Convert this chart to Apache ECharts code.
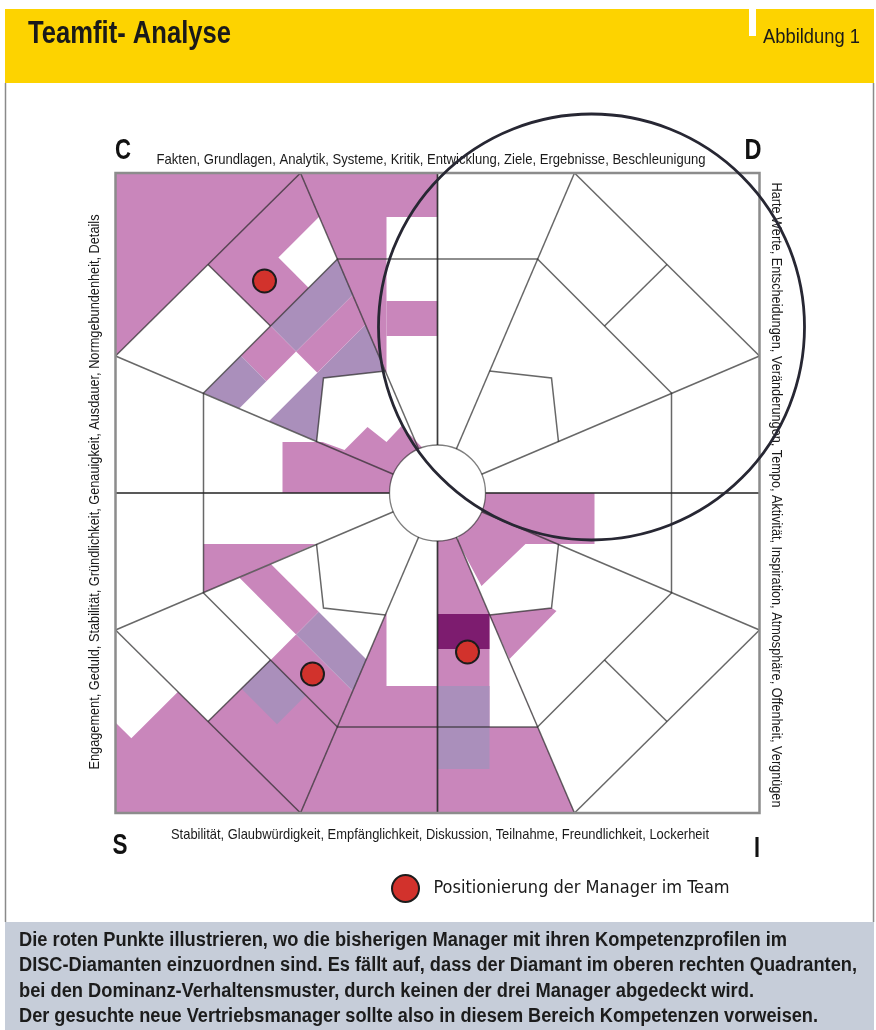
<!DOCTYPE html>
<html>
<head>
<meta charset="utf-8">
<script src="https://cdn.jsdelivr.net/npm/echarts@6/dist/echarts.min.js"></script>
<style>
html, body { margin: 0; padding: 0; background: #fff; }
#chart { width: 876px; height: 1030px; }
</style>
</head>
<body>
<div id="chart"></div>
<script>
const FONT = '"Liberation Sans", Arial, sans-serif';
const LEGEND_FONT = '"DejaVu Sans Condensed", sans-serif';

// diamond geometry, one quadrant (top right), mirrored into the others
const half = [322, 320];
const vertexT = [137, 320];
const vertexR = [322, 137];
const octagon = [[0, 234], [100, 234], [234, 100], [234, 0]];
const crossLine = [[167, 167], [229.5, 228.5]];
const innerQuad = [[52, 122], [114, 115], [121, 51]];
const hubRadius = 48;
const quadrants = [[1, 1], [-1, 1], [-1, -1], [1, -1]]; // TR, TL, BL, BR

// marked circle (top right)
const focusCenter = [154, 166];
const focusRadius = 213;

// managers
const managerName = 'Positionierung der Manager im Team';
const managers = [[-173, 212], [-125, -181], [30, -159]];

// shaded areas of the profile (x, y in diagram units)
const pinkAreas = [
  [[-322, 320], [-322, 137], [-229.5, 228.5], [-167, 167], [-100, 234], [-137, 320]],
  [[-137, 320], [0, 320], [0, 276], [-51, 276], [-51, 119.5]],
  [[-51, 157], [0, 157], [0, 192], [-51, 192]],
  [[-322, -320], [-137, -320], [-100, -234], [-167, -167], [-229.5, -228.5], [-322, -137]],
  [[-234, -51], [-122, -51], [-234, -99.5]],
  [[-137, -320], [0, -320], [0, -193], [-51, -193], [-51, -119.5]],
  [[0, -40], [17, -40], [137, -320], [0, -320]],
  [[30, 0], [157, 0], [157, -51], [88, -51], [44, -93], [20, -48]]
];
// cells in the diagonal sectors: [quadrant, u from, u to, v from, v to, tone]
// u runs from the centre towards the corner, v across the sector
const stripeCells = [
  [1, 236, 279, 54, 999, 'white'],
  [1, 100, 170, -999, 999, 'lilac'],
  [1, 170, 200, 0, 999, 'pink'],
  [1, 200, 236, 0, 999, 'lilac'],
  [1, 200, 236, -42, 0, 'pink'],
  [1, 200, 236, -999, -42, 'lilac'],
  [2, 324, 390, -999, -43, 'white'],
  [2, 236, 277, 0, 50, 'lilac'],
  [2, 200, 236, 0, 999, 'pink'],
  [2, 168, 200, 0, 999, 'lilac'],
  [2, 168, 200, -999, 0, 'pink']
];
const whiteAreas = [
  [[0, 0], [-52, 122], [-114, 115], [-121, 51]],
  [[52, -122], [100, -234], [52, -234]]
];
const lilacAreas = [[[0, -276], [52, -276], [52, -193], [0, -193]]];
const plumAreas = [[[0, -156], [52, -156], [52, -121], [0, -121]]];
const topPinkAreas = [
  [[-155, 0], [-155, 51], [-115, 51], [-93, 43], [-70, 66], [-51, 51], [-36, 67], [-10, 40], [-10, 0]],
  [[52, -122], [114, -115], [119, -118], [72, -166]]
];

const captionLines = [
  'Die roten Punkte illustrieren, wo die bisherigen Manager mit ihren Kompetenzprofilen im',
  'DISC-Diamanten einzuordnen sind. Es fällt auf, dass der Diamant im oberen rechten Quadranten,',
  'bei den Dominanz-Verhaltensmuster, durch keinen der drei Manager abgedeckt wird.',
  'Der gesuchte neue Vertriebsmanager sollte also in diesem Bereich Kompetenzen vorweisen.'
];
const captionWidths = [768, 838, 735, 799];

const tones = { pink: '#c986bb', lilac: '#aa8fbb', plum: '#7d1c6f', white: '#ffffff' };
const spread = (vertexT[1] - vertexT[0]) / (vertexT[1] + vertexT[0]);

function diagPolygon(q, u0, u1, v0, v1) {
  const [sx, sy] = quadrants[q];
  return [[u0, v0], [u1, v0], [u1, v1], [u0, v1]].map(([u, v]) => {
    const lim = spread * u;
    const vv = Math.max(-lim, Math.min(lim, v));
    return [sx * (u - vv) / Math.SQRT2, sy * (u + vv) / Math.SQRT2];
  });
}

const layers = [];
pinkAreas.forEach(p => layers.push({ pts: p, tone: 'pink' }));
stripeCells.forEach(c => layers.push({ pts: diagPolygon(c[0], c[1], c[2], c[3], c[4]), tone: c[5] }));
whiteAreas.forEach(p => layers.push({ pts: p, tone: 'white' }));
lilacAreas.forEach(p => layers.push({ pts: p, tone: 'lilac' }));
plumAreas.forEach(p => layers.push({ pts: p, tone: 'plum' }));
topPinkAreas.forEach(p => layers.push({ pts: p, tone: 'pink' }));

// line work
const segments = [];
quadrants.forEach(([sx, sy]) => {
  const m = p => [p[0] * sx, p[1] * sy];
  segments.push([[0, 0], m([0, half[1]])]);
  segments.push([[0, 0], m([half[0], 0])]);
  segments.push([[0, 0], m(vertexT)]);
  segments.push([[0, 0], m(vertexR)]);
  segments.push([m(vertexT), m(vertexR)]);
  segments.push(octagon.map(m));
  segments.push(crossLine.map(m));
  segments.push(innerQuad.map(m));
});

// condensed look: squeeze text horizontally to the printed width
const measure = document.createElement('canvas').getContext('2d');
function label(text, x, y, font, width, opts) {
  measure.font = font;
  const s = width / measure.measureText(text).width;
  const o = opts || {};
  return {
    type: 'text', x: x, y: y, rotation: o.rotation || 0, scaleX: s,
    style: { text: text, font: font, fill: o.fill || '#1a1a1a', align: o.align || 'left', verticalAlign: 'middle' }
  };
}

const graphics = [
  { type: 'rect', shape: { x: 5, y: 9, width: 869, height: 74 }, style: { fill: '#fdd300' } },
  { type: 'rect', shape: { x: 749, y: 9, width: 7, height: 27 }, style: { fill: '#ffffff' } },
  label('Teamfit- Analyse', 28, 34, 'bold 31px ' + FONT, 203),
  label('Abbildung 1', 763, 37, '21px ' + FONT, 97),
  { type: 'line', shape: { x1: 5.5, y1: 83, x2: 5.5, y2: 922 }, style: { stroke: '#8a8a8a', lineWidth: 1.5 } },
  { type: 'line', shape: { x1: 873.5, y1: 83, x2: 873.5, y2: 922 }, style: { stroke: '#8a8a8a', lineWidth: 1.5 } },
  { type: 'rect', shape: { x: 5, y: 922, width: 869, height: 108 }, style: { fill: '#c6cdd9' } },
  label('C', 123, 151, 'bold 30px ' + FONT, 16, { align: 'center', fill: '#111' }),
  label('D', 753, 151, 'bold 30px ' + FONT, 17, { align: 'center', fill: '#111' }),
  label('S', 120, 846, 'bold 30px ' + FONT, 15, { align: 'center', fill: '#111' }),
  label('I', 757, 849, 'bold 30px ' + FONT, 6, { align: 'center', fill: '#111' }),
  label('Fakten, Grundlagen, Analytik, Systeme, Kritik, Entwicklung, Ziele, Ergebnisse, Beschleunigung',
    431, 160, '15px ' + FONT, 549, { align: 'center' }),
  label('Stabilität, Glaubwürdigkeit, Empfänglichkeit, Diskussion, Teilnahme, Freundlichkeit, Lockerheit',
    440, 835, '15px ' + FONT, 538, { align: 'center' }),
  label('Engagement, Geduld, Stabilität, Gründlichkeit, Genauigkeit, Ausdauer, Normgebundenheit, Details',
    95, 492, '15px ' + FONT, 555, { align: 'center', rotation: Math.PI / 2 }),
  label('Harte Werte, Entscheidungen, Veränderungen, Tempo, Aktivität, Inspiration, Atmosphäre, Offenheit, Vergnügen',
    776, 495, '15px ' + FONT, 625, { align: 'center', rotation: -Math.PI / 2 })
];
captionLines.forEach((t, i) => {
  graphics.push(label(t, 19, 940 + i * 25.5, 'bold 20px ' + FONT, captionWidths[i], { fill: '#1c1c1c' }));
});

const chart = echarts.init(document.getElementById('chart'));

chart.setOption({
  animation: false,
  grid: { left: 115, top: 173, width: 645, height: 640 },
  xAxis: { type: 'value', min: -322.5, max: 322.5, show: false },
  yAxis: { type: 'value', min: -320, max: 320, show: false },
  legend: {
    data: [managerName],
    left: 386, top: 869,
    itemWidth: 30, itemHeight: 27,
    textStyle: { fontFamily: LEGEND_FONT, fontSize: 18, color: '#1a1a1a', padding: [0, 0, 0, 8] }
  },
  graphic: graphics,
  series: [
    {
      type: 'custom',
      name: 'fills',
      silent: true,
      clip: true,
      z: 1,
      data: layers.map(l => l.pts[0]),
      renderItem: (params, api) => {
        const l = layers[params.dataIndex];
        return {
          type: 'polygon',
          shape: { points: l.pts.map(p => api.coord(p)) },
          style: { fill: tones[l.tone] }
        };
      }
    },
    {
      type: 'custom',
      name: 'lines',
      silent: true,
      z: 2,
      data: segments.map(s => s[0]),
      renderItem: (params, api) => ({
        type: 'polyline',
        shape: { points: segments[params.dataIndex].map(p => api.coord(p)) },
        style: { stroke: 'rgba(40,40,40,0.7)', lineWidth: 1.5, fill: null }
      })
    },
    {
      type: 'custom',
      name: 'frame',
      silent: true,
      z: 3,
      data: [[0, 0]],
      renderItem: (params, api) => {
        const a = api.coord([-half[0], half[1]]);
        const b = api.coord([half[0], -half[1]]);
        const c = api.coord([0, 0]);
        const r = api.size([hubRadius, 0])[0];
        return {
          type: 'group',
          children: [
            { type: 'circle', shape: { cx: c[0], cy: c[1], r: r }, style: { fill: '#fff', stroke: 'rgba(40,40,40,0.6)', lineWidth: 1.3 } },
            { type: 'rect', shape: { x: a[0], y: a[1], width: b[0] - a[0], height: b[1] - a[1] }, style: { fill: null, stroke: '#8c8c8c', lineWidth: 2.5 } }
          ]
        };
      }
    },
    {
      type: 'custom',
      name: 'focus',
      silent: true,
      clip: false,
      z: 4,
      data: [focusCenter],
      renderItem: (params, api) => {
        const c = api.coord(focusCenter);
        return {
          type: 'circle',
          shape: { cx: c[0], cy: c[1], r: api.size([focusRadius, 0])[0] },
          style: { fill: null, stroke: '#272733', lineWidth: 2.8 }
        };
      }
    },
    {
      type: 'scatter',
      name: managerName,
      z: 5,
      symbol: 'circle',
      symbolSize: 23,
      itemStyle: { color: '#d2322c', borderColor: '#1c1c1c', borderWidth: 2, opacity: 1 },
      data: managers
    }
  ]
});
</script>
</body>
</html>
